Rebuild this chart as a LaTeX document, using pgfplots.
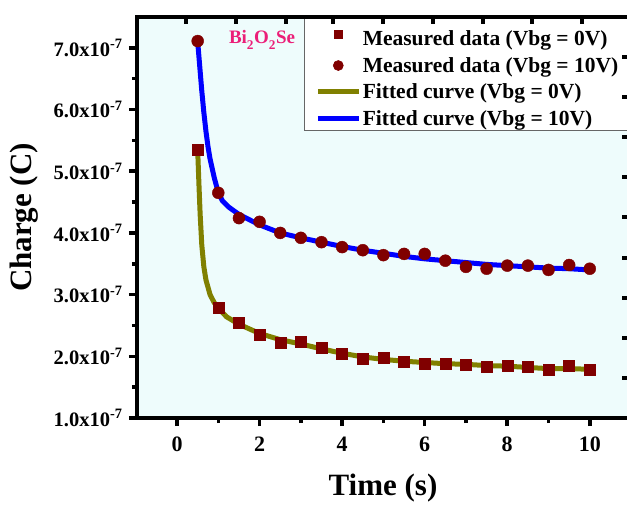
\documentclass[border=0pt]{standalone}
\usepackage{pgfplots}
\pgfplotsset{compat=1.18}
\usepackage{fontspec}
\setmainfont{Liberation Serif}
\definecolor{bgc}{RGB}{238,252,252}
\definecolor{mred}{RGB}{128,0,0}
\definecolor{olivec}{RGB}{128,128,0}
\definecolor{pinkc}{RGB}{235,30,120}
\pgfplotsset{
  sqleg/.style={legend image code/.code={\path (0pt,0pt) (41pt,0pt);\draw[##1,mark size=4pt] plot coordinates {(20.5pt,0pt)};}},
  cirleg/.style={legend image code/.code={\path (0pt,0pt) (41pt,0pt);\draw[##1,mark size=5pt] plot coordinates {(20.5pt,0pt)};}},
  linleg/.style={legend image code/.code={\draw[##1] (0pt,0pt) -- (41pt,0pt);}},
}
\begin{document}
\begin{tikzpicture}
\begin{axis}[name=ax,
  at={(0pt,0pt)}, anchor=south west,
  scale only axis, width=492pt, height=401pt,
  xmin=-0.97, xmax=10.95, ymin=1.0, ymax=7.5,
  axis background/.style={fill=bgc},
  axis line style={line width=4.5pt},
  xtick={0,2,4,6,8,10}, ytick={1,2,3,4,5,6,7},
  minor x tick num=1, minor y tick num=1,
  xtick pos=bottom, ytick pos=left,
  tick align=outside,
  major tick length=8pt, minor tick length=5pt,
  every tick/.style={line width=3.5pt, black},
  /pgf/number format/assume math mode=true,
  xticklabel style={font=\fontsize{22}{24}\selectfont\bfseries, yshift=-7pt},
  yticklabel style={font=\fontsize{20.5}{24}\selectfont\bfseries, xshift=-3pt},
  yticklabel={\pgfmathprintnumber[fixed,fixed zerofill,precision=1]{\tick}x10\textsuperscript{-7}},
  xlabel={Time (s)}, ylabel={Charge (C)},
  label style={font=\fontsize{31}{34}\selectfont\bfseries},
  xlabel style={at={(axis description cs:0.5,-0.175)}, anchor=center},
  ylabel style={at={(axis description cs:-0.23,0.5)}, anchor=center},
  legend style={at={(rel axis cs:0.3394,1)}, anchor=north west,
    draw=black!60, line width=0.6pt, fill=white,
    font=\fontsize{21.5}{26.5}\selectfont\bfseries,
    inner xsep=11pt, inner ysep=2pt, row sep=7pt,
    nodes={inner sep=1.5pt}},
  legend cell align=left,
]
\addplot[only marks, mark=square*, mark size=5.5pt, color=mred, sqleg]
  coordinates {(0.5,5.35) (1,2.78) (1.5,2.54) (2,2.35) (2.5,2.22) (3,2.23) (3.5,2.14) (4,2.05) (4.5,1.96) (5,1.97) (5.5,1.91) (6,1.88) (6.5,1.88) (7,1.87) (7.5,1.83) (8,1.84) (8.5,1.83) (9,1.78) (9.5,1.84) (10,1.79)};
\addlegendentry{\rule{0pt}{25pt}Measured data (Vbg = 0V)}
\addplot[only marks, mark=*, mark size=6pt, color=mred, cirleg]
  coordinates {(0.5,7.11) (1,4.65) (1.5,4.24) (2,4.18) (2.5,4.0) (3,3.92) (3.5,3.85) (4,3.77) (4.5,3.72) (5,3.64) (5.5,3.66) (6,3.66) (6.5,3.55) (7,3.45) (7.5,3.42) (8,3.47) (8.5,3.47) (9,3.40) (9.5,3.48) (10,3.42)};
\addlegendentry{Measured data (Vbg = 10V)\hspace*{25pt}}
\addplot[no marks, color=olivec, line width=5pt, linleg]
  coordinates {(0.5,5.35) (0.53,4.8) (0.56,4.3) (0.6,3.8) (0.65,3.45) (0.7,3.24) (0.8,3.0) (0.9,2.87) (1.0,2.78) (1.2,2.64) (1.5,2.52) (2,2.37) (2.5,2.27) (3,2.2) (3.5,2.12) (4,2.05) (4.5,1.99) (5,1.95) (5.5,1.92) (6,1.9) (6.5,1.88) (7,1.87) (7.5,1.85) (8,1.84) (8.5,1.82) (9,1.8) (9.5,1.8) (10,1.79)};
\addlegendentry{Fitted curve (Vbg = 0V)}
\addplot[no marks, color=blue, line width=5pt, linleg]
  coordinates {(0.5,7.1) (0.55,6.7) (0.6,6.3) (0.65,5.95) (0.7,5.65) (0.75,5.4) (0.8,5.2) (0.9,4.9) (1.0,4.65) (1.1,4.52) (1.25,4.42) (1.5,4.3) (2,4.13) (2.5,4.0) (3,3.92) (3.5,3.85) (4,3.78) (4.5,3.72) (5,3.67) (5.5,3.62) (6,3.58) (6.5,3.55) (7,3.52) (7.5,3.49) (8,3.47) (8.5,3.45) (9,3.43) (9.5,3.42) (10,3.40)};
\addlegendentry{Fitted curve (Vbg = 10V)}
\node[font=\fontsize{19}{20}\selectfont\bfseries, text=pinkc] at (axis cs:2.06,7.13) {Bi\raisebox{-0.35ex}{\textsubscript{2}}O\raisebox{-0.35ex}{\textsubscript{2}}Se};
\end{axis}
\begin{axis}[
  at={(0pt,0pt)}, anchor=south west,
  scale only axis, width=492pt, height=401pt,
  xmin=137, xmax=629, ymin=-418, ymax=-17,
  axis line style={line width=4.5pt},
  xtick={186,236,286,333,383,433,483,532,582},
  ytick={-378,-338,-298,-258,-217,-177,-137,-97,-57},
  xtick pos=top, ytick pos=right, tick align=inside,
  major tick length=7pt,
  every tick/.style={line width=3.5pt, black},
  xticklabels={}, yticklabels={},
]
\end{axis}
\pgfresetboundingbox
\path[use as bounding box] (-137pt,-89pt) rectangle (490pt,418pt);
\end{tikzpicture}
\end{document}
